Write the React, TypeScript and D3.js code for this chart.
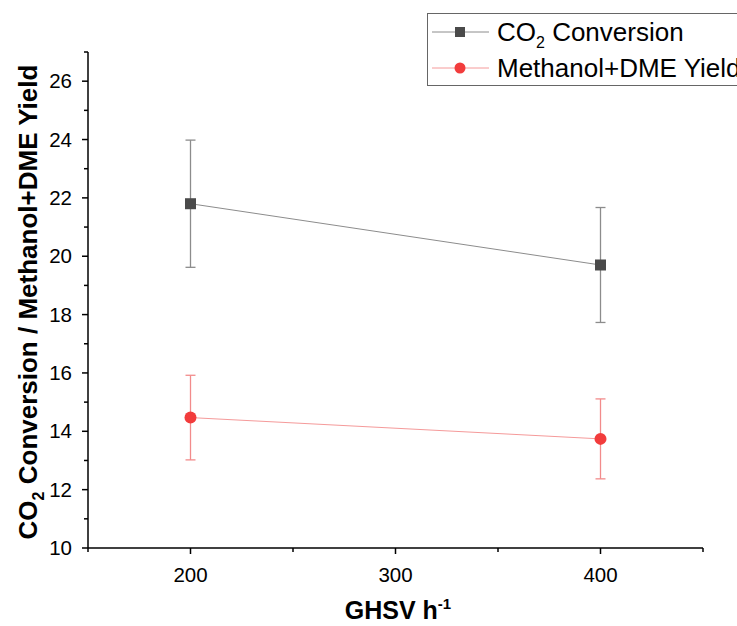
import React from "react";
import * as d3 from "d3";

const xValues = [200, 400];
const co2Values = [21.8, 19.7];
const co2Errors = [2.18, 1.97];
const methValues = [14.47, 13.74];
const methErrors = [1.45, 1.37];
const xTicks = [200, 300, 400];
const xMinorTicks = [150, 250, 350, 450];
const yTicks = [10, 12, 14, 16, 18, 20, 22, 24, 26];
const yMinorTicks = [11, 13, 15, 17, 19, 21, 23, 25, 27];

const W = 737, H = 626;
const x = d3.scaleLinear().domain([150, 450]).range([88, 703]);
const y = d3.scaleLinear().domain([10, 27]).range([548, 52]);

const FONT = "'Liberation Sans', Arial, sans-serif";

export default function App() {
  const line = d3.line<number>().x((_, i) => x(xValues[i])).y((v) => y(v));
  const series = [
    { vals: co2Values, errs: co2Errors, line: "#8c8c8c", err: "#8c8c8c", marker: "#4a4a4a", shape: "square" },
    { vals: methValues, errs: methErrors, line: "#f59a9a", err: "#f28b8b", marker: "#f23c3c", shape: "circle" },
  ];
  return (
    <svg width={W} height={H} style={{ position: "absolute", left: 0, top: 0 }} fontFamily={FONT}>
      <rect width={W} height={H} fill="#fff" />
      {/* axes */}
      <line x1={x(150)} x2={x(450)} y1={y(10)} y2={y(10)} stroke="#000" strokeWidth={1.5} />
      <line x1={x(150)} x2={x(150)} y1={y(10)} y2={y(27)} stroke="#000" strokeWidth={1.5} />
      {xTicks.map((t) => (
        <g key={"xt" + t}>
          <line x1={x(t)} x2={x(t)} y1={y(10)} y2={y(10) + 6} stroke="#000" strokeWidth={1.5} />
          <text x={x(t)} y={y(10) + 34} fontSize={20.5} textAnchor="middle" fill="#000">{t}</text>
        </g>
      ))}
      {xMinorTicks.map((t) => (
        <line key={"xm" + t} x1={x(t)} x2={x(t)} y1={y(10)} y2={y(10) + 4} stroke="#000" strokeWidth={1.5} />
      ))}
      {yTicks.map((t) => (
        <g key={"yt" + t}>
          <line x1={x(150) - 6} x2={x(150)} y1={y(t)} y2={y(t)} stroke="#000" strokeWidth={1.5} />
          <text x={x(150) - 16} y={y(t)} dy="0.35em" fontSize={20.5} textAnchor="end" fill="#000">{t}</text>
        </g>
      ))}
      {yMinorTicks.map((t) => (
        <line key={"ym" + t} x1={x(150) - 4} x2={x(150)} y1={y(t)} y2={y(t)} stroke="#000" strokeWidth={1.5} />
      ))}
      {/* titles */}
      <text x={398} y={619} fontSize={25} fontWeight="bold" textAnchor="middle" fill="#000">
        GHSV h<tspan dy={-10} fontSize={15}>-1</tspan>
      </text>
      <text transform={`translate(37,${302}) rotate(-90)`} fontSize={26} fontWeight="bold" textAnchor="middle" fill="#000">
        CO<tspan dy={7} fontSize={16}>2</tspan><tspan dy={-7}> Conversion / Methanol+DME Yield</tspan>
      </text>
      {/* series */}
      {series.map((s, si) => (
        <g key={"s" + si}>
          <path d={line(s.vals) || ""} fill="none" stroke={s.line} strokeWidth={1} />
          {s.vals.map((v, i) => (
            <g key={i}>
              <line x1={x(xValues[i])} x2={x(xValues[i])} y1={y(v + s.errs[i])} y2={y(v - s.errs[i])} stroke={s.err} strokeWidth={1.3} />
              <line x1={x(xValues[i]) - 5} x2={x(xValues[i]) + 5} y1={y(v + s.errs[i])} y2={y(v + s.errs[i])} stroke={s.err} strokeWidth={1.3} />
              <line x1={x(xValues[i]) - 5} x2={x(xValues[i]) + 5} y1={y(v - s.errs[i])} y2={y(v - s.errs[i])} stroke={s.err} strokeWidth={1.3} />
              {s.shape === "square" ? (
                <rect x={x(xValues[i]) - 5.5} y={y(v) - 5.5} width={11} height={11} fill={s.marker} />
              ) : (
                <circle cx={x(xValues[i])} cy={y(v)} r={6} fill={s.marker} />
              )}
            </g>
          ))}
        </g>
      ))}
      {/* legend */}
      <rect x={427.5} y={13.5} width={320} height={72} fill="#fff" stroke="#666" strokeWidth={1} />
      <line x1={432} x2={489} y1={32} y2={32} stroke="#8c8c8c" strokeWidth={1} />
      <rect x={455} y={27} width={10} height={10} fill="#4a4a4a" />
      <text x={497} y={32} dy="0.35em" fontSize={26} fill="#000">
        CO<tspan dy={7} fontSize={16}>2</tspan><tspan dy={-7}> Conversion</tspan>
      </text>
      <line x1={432} x2={489} y1={68} y2={68} stroke="#f59a9a" strokeWidth={1} />
      <circle cx={460} cy={68} r={5.5} fill="#f23c3c" />
      <text x={497} y={68} dy="0.35em" fontSize={26} fill="#000">Methanol+DME Yield</text>
    </svg>
  );
}
